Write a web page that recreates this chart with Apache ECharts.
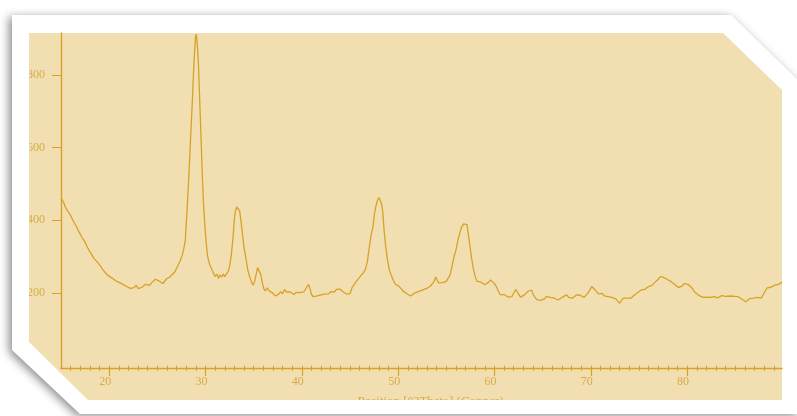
<!DOCTYPE html>
<html>
<head>
<meta charset="utf-8">
<script src="https://cdn.jsdelivr.net/npm/echarts@6/dist/echarts.min.js"></script>
<style>
  html, body { margin: 0; padding: 0; background: #ffffff; }
  #chart { width: 797px; height: 416px; }
</style>
</head>
<body>
<div id="chart"></div>
<script>
// Diffraction scan: 2θ positions (degrees) and measured counts
const twoTheta = [
  15.04, 15.3, 15.45, 15.7, 15.9, 16.2, 16.4, 16.6, 16.8, 17.0, 17.2, 17.5, 17.7, 17.9,
  18.2, 18.4, 18.6, 18.9, 19.1, 19.3, 19.6, 19.8, 20.0, 20.3, 20.5, 20.8, 21.0, 21.3,
  21.5, 21.8, 22.0, 22.2, 22.4, 22.6, 22.8, 23.0, 23.2, 23.4, 23.6, 23.8, 24.0, 24.2,
  24.4, 24.6, 24.8, 25.0, 25.2, 25.4, 25.6, 25.8, 26.0, 26.3, 26.5, 26.8, 27.0, 27.2,
  27.4, 27.6, 27.75, 27.9, 28.07, 28.25, 28.41, 28.55, 28.65, 28.78, 28.88, 28.97, 29.03,
  29.1, 29.18, 29.27, 29.36, 29.45, 29.57, 29.69, 29.82, 29.97, 30.1, 30.2, 30.31, 30.45,
  30.6, 30.7, 30.85, 31.0, 31.2, 31.35, 31.5, 31.7, 31.85, 32.0, 32.2, 32.4, 32.55, 32.7,
  32.85, 33.0, 33.1, 33.25, 33.4, 33.55, 33.7, 33.85, 34.0, 34.2, 34.4, 34.6, 34.8, 34.95,
  35.1, 35.25, 35.4, 35.5, 35.6, 35.75, 35.9, 36.05, 36.2, 36.4, 36.6, 36.8, 37.0, 37.2,
  37.4, 37.6, 37.8, 38.0, 38.2, 38.4, 38.6, 38.8, 39.0, 39.2, 39.4, 39.6, 39.8, 40.0,
  40.2, 40.4, 40.55, 40.7, 40.85, 41.0, 41.2, 41.4, 41.6, 41.8, 42.0, 42.2, 42.4, 42.6,
  42.8, 43.0, 43.2, 43.4, 43.6, 43.8, 44.0, 44.2, 44.4, 44.6, 44.8, 45.0, 45.2, 45.4,
  45.6, 45.8, 46.0, 46.2, 46.4, 46.6, 46.8, 47.0, 47.2, 47.4, 47.55, 47.7, 47.85, 48.0,
  48.1, 48.25, 48.4, 48.55, 48.7, 48.9, 49.1, 49.3, 49.5, 49.7, 49.9, 50.1, 50.3, 50.5,
  50.7, 50.9, 51.1, 51.3, 51.5, 51.7, 51.9, 52.1, 52.3, 52.5, 52.7, 52.9, 53.1, 53.3,
  53.5, 53.7, 53.9, 54.0, 54.2, 54.4, 54.6, 54.8, 55.0, 55.2, 55.4, 55.6, 55.8, 56.0,
  56.2, 56.4, 56.6, 56.8, 57.0, 57.15, 57.3, 57.45, 57.6, 57.8, 58.0, 58.2, 58.4, 58.6,
  58.8, 59.0, 59.2, 59.4, 59.6, 59.8, 60.0, 60.2, 60.4, 60.6, 60.8, 61.0, 61.2, 61.4,
  61.6, 61.8, 62.0, 62.2, 62.35, 62.5, 62.7, 62.9, 63.1, 63.3, 63.5, 63.7, 63.85, 64.0,
  64.2, 64.4, 64.6, 64.8, 65.0, 65.2, 65.4, 65.6, 65.8, 66.0, 66.2, 66.4, 66.6, 66.8,
  67.0, 67.2, 67.5, 67.7, 67.9, 68.1, 68.3, 68.5, 68.7, 68.9, 69.1, 69.3, 69.5, 69.7,
  69.9, 70.1, 70.25, 70.4, 70.6, 70.8, 71.0, 71.2, 71.4, 71.6, 71.8, 72.0, 72.2, 72.4,
  72.6, 72.8, 73.0, 73.2, 73.4, 73.6, 73.8, 74.0, 74.2, 74.4, 74.6, 74.8, 75.0, 75.2,
  75.4, 75.6, 75.8, 76.0, 76.2, 76.4, 76.6, 76.8, 77.0, 77.2, 77.3, 77.5, 77.7, 77.9,
  78.1, 78.3, 78.5, 78.7, 78.9, 79.1, 79.3, 79.5, 79.7, 79.9, 80.1, 80.3, 80.5, 80.7,
  80.9, 81.1, 81.3, 81.5, 81.7, 81.9, 82.1, 82.3, 82.5, 82.8, 83.0, 83.2, 83.4, 83.6,
  83.8, 84.0, 84.2, 84.5, 84.7, 84.9, 85.1, 85.3, 85.5, 85.7, 85.9, 86.1, 86.3, 86.5,
  86.7, 86.9, 87.1, 87.3, 87.5, 87.7, 87.9, 88.1, 88.3, 88.5, 88.7, 88.9, 89.1, 89.3,
  89.5, 89.7, 89.85
];

const counts = [
  460, 448, 436, 425, 418, 402, 392, 383, 372, 362, 352, 340, 328, 318,
  305, 296, 290, 281, 274, 266, 256, 250, 247, 241, 236, 232, 229, 226,
  224, 218, 221, 213, 217, 215, 222, 212, 209, 216, 219, 224, 226, 221,
  228, 231, 238, 241, 233, 229, 226, 234, 240, 244, 249, 258, 268, 279,
  290, 305, 322, 345, 419, 510, 600, 680, 737, 820, 868, 905, 912,
  900, 870, 830, 760, 693, 600, 510, 430, 373, 330, 305, 290, 278,
  268, 262, 258, 246, 252, 240, 250, 244, 252, 245, 250, 262, 280, 310,
  350, 405, 425, 437, 434, 425, 395, 360, 325, 295, 262, 244, 228, 222,
  232, 250, 270, 275, 268, 250, 228, 212, 206, 214, 206, 210, 200, 192,
  189, 197, 204, 198, 210, 203, 198, 203, 200, 196, 202, 198, 201, 197,
  203, 208, 218, 224, 212, 196, 190, 194, 192, 197, 195, 199, 197, 201,
  198, 204, 208, 203, 210, 214, 211, 205, 200, 198, 195, 198, 214, 222,
  230, 237, 240, 250, 256, 265, 285, 325, 360, 385, 420, 440, 455, 463,
  460, 448, 425, 370, 330, 290, 262, 248, 235, 225, 222, 218, 214, 206,
  203, 198, 194, 192, 196, 200, 198, 204, 201, 208, 206, 212, 214, 218,
  222, 230, 244, 238, 228, 232, 229, 231, 232, 236, 250, 275, 300, 318,
  345, 365, 382, 390, 394, 388, 358, 330, 300, 268, 245, 232, 228, 230,
  226, 223, 224, 230, 236, 234, 226, 218, 205, 196, 193, 196, 192, 189,
  186, 190, 200, 210, 211, 198, 189, 192, 195, 200, 205, 210, 208, 198,
  188, 182, 186, 180, 178, 184, 191, 194, 188, 183, 186, 184, 181, 186,
  188, 192, 195, 188, 183, 186, 190, 195, 200, 194, 190, 188, 192, 200,
  208, 218, 220, 210, 204, 198, 196, 199, 192, 194, 190, 192, 188, 190,
  184, 180, 172, 180, 186, 190, 186, 182, 186, 192, 196, 200, 204, 208,
  212, 210, 214, 218, 220, 222, 228, 233, 238, 245, 249, 244, 240, 238,
  234, 232, 228, 224, 220, 215, 214, 220, 226, 228, 224, 222, 214, 206,
  200, 196, 192, 190, 188, 191, 189, 192, 188, 190, 192, 187, 190, 193,
  188, 191, 194, 192, 189, 191, 188, 190, 186, 183, 180, 176, 180, 185,
  188, 186, 190, 188, 184, 186, 190, 205, 214, 218, 216, 220, 222, 220,
  224, 223, 230
];

// Axis tick labels
const xTickLabels = [20, 30, 40, 50, 60, 70, 80];
const xMinorTicks = [];
for (let d = 16; d <= 89; d++) xMinorTicks.push(d);
const yTickLabels = [200, 400, 600, 800];

const xTitle = 'Position [°2Theta] (Copper)';

const gold = '#d7a226';
const labelGold = '#d8ab48';
const paper = '#f2dfb1';
const serif = '"Liberation Serif", "DejaVu Serif", serif';

const chart = echarts.init(document.getElementById('chart'), null, { renderer: 'canvas' });

const seriesData = twoTheta.map((t, i) => [t, counts[i]]);

chart.setOption({
  animation: false,
  backgroundColor: '#ffffff',
  graphic: [
    // white card with a soft shadow and cut corners
    {
      type: 'polygon', z: -20, silent: true,
      shape: { points: [[12, 15], [731, 15], [800, 82], [800, 414], [80, 414], [12, 350]] },
      style: { fill: '#ffffff', shadowBlur: 10, shadowColor: 'rgba(0,0,0,0.45)', shadowOffsetX: -3, shadowOffsetY: 2 }
    },
    // tinted plotting paper
    {
      type: 'polygon', z: -10, silent: true,
      shape: { points: [[29, 33], [723, 33], [782, 90], [782, 400], [88, 400], [29, 342]] },
      style: { fill: paper }
    },
    // card margins drawn over the labels that run past the paper
    {
      type: 'rect', z: 100, silent: true,
      shape: { x: 13, y: 33, width: 16, height: 309 },
      style: { fill: '#ffffff' }
    },
    {
      type: 'rect', z: 100, silent: true,
      shape: { x: 88, y: 400, width: 709, height: 14 },
      style: { fill: '#ffffff' }
    }
  ],
  grid: { left: 61, right: 15, top: 33, bottom: 48, containLabel: false },
  xAxis: [
    {
      type: 'value', min: 15, max: 89.85,
      name: xTitle, nameLocation: 'middle', nameGap: 27,
      nameTextStyle: { fontFamily: serif, fontSize: 13, color: labelGold, padding: [0, 0, 0, 18] },
      axisLine: { show: true, onZero: false, lineStyle: { color: gold, width: 1.4 } },
      axisTick: { show: true, inside: false, length: 8, customValues: xTickLabels, lineStyle: { color: gold, width: 1.2 } },
      axisLabel: { show: true, customValues: xTickLabels, margin: 8, fontFamily: serif, fontSize: 12, color: labelGold, padding: [0, 8, 0, 0] },
      splitLine: { show: false }
    },
    {
      type: 'value', min: 15, max: 89.85, position: 'bottom',
      axisLine: { show: false },
      axisTick: { show: true, inside: false, length: 5, customValues: xMinorTicks, lineStyle: { color: gold, width: 1 } },
      axisLabel: { show: false },
      splitLine: { show: false }
    }
  ],
  yAxis: {
    type: 'value', min: -6, max: 915,
    axisLine: { show: true, onZero: false, lineStyle: { color: gold, width: 1.4 } },
    axisTick: { show: true, inside: false, length: 9, customValues: yTickLabels, lineStyle: { color: gold, width: 1 } },
    axisLabel: { show: true, customValues: yTickLabels, margin: 16, fontFamily: serif, fontSize: 12, color: labelGold },
    splitLine: { show: false }
  },
  series: [
    {
      type: 'line', xAxisIndex: 0,
      data: seriesData,
      showSymbol: false,
      smooth: false,
      clip: true,
      lineStyle: { color: gold, width: 1.3 }
    }
  ]
});
</script>
</body>
</html>
